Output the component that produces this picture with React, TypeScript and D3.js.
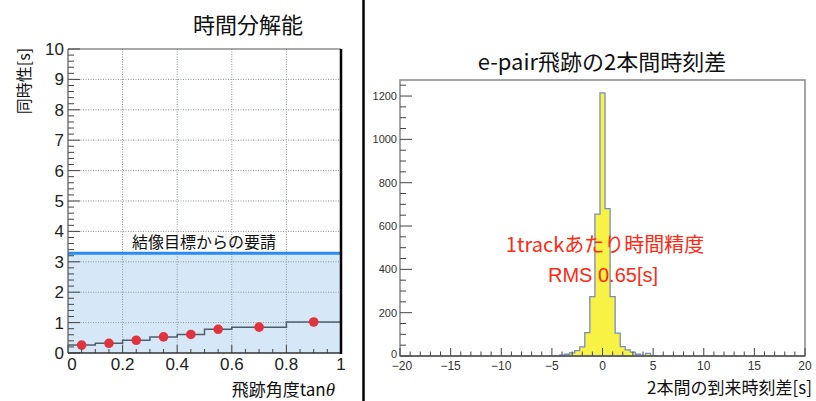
import React from "react";
import * as d3 from "d3";

// ---------- Left panel data ----------
const leftTitle = "時間分解能";
const leftYLabel = "同時性[s]";
const leftXLabel = "飛跡角度tan";
const reqLabel = "結像目標からの要請";
const binEdges = [0, 0.1, 0.2, 0.3, 0.4, 0.5, 0.6, 0.8, 1.0];
const pointX = [0.05, 0.15, 0.25, 0.35, 0.45, 0.55, 0.7, 0.9];
const pointY = [0.26, 0.32, 0.42, 0.53, 0.61, 0.78, 0.85, 1.02];
const requirement = 3.28;
const leftXTicks = [0, 0.2, 0.4, 0.6, 0.8, 1];
const leftYTicks = [0, 1, 2, 3, 4, 5, 6, 7, 8, 9, 10];

// ---------- Right panel data ----------
const rightTitle = "e-pair飛跡の2本間時刻差";
const rightXLabel = "2本間の到来時刻差[s]";
const annot1 = "1trackあたり時間精度";
const annot2 = "RMS 0.65[s]";
const histCenters = [-5, -4.5, -4, -3.5, -3, -2.5, -2, -1.5, -1, -0.5, 0, 0.5, 1, 1.5, 2, 2.5, 3, 3.5, 4, 4.5, 5];
const histCounts = [1, 2, 4, 8, 14, 25, 42, 108, 274, 655, 1215, 680, 274, 106, 43, 28, 18, 8, 3, 12, 2];
const binWidth = 0.5;
const rightXTicks = [-20, -15, -10, -5, 0, 5, 10, 15, 20];
const rightYTicks = [0, 200, 400, 600, 800, 1000, 1200];

const FONT = "'Liberation Sans', Arial, 'Noto Sans CJK JP', sans-serif";
const JFONT = "'Noto Sans CJK JP', 'Liberation Sans', sans-serif";

export default function App() {
  // left scales
  const x = d3.scaleLinear().domain([0, 1]).range([68, 341]);
  const y = d3.scaleLinear().domain([0, 10]).range([353, 49]);
  // right scales
  const xr = d3.scaleLinear().domain([-20, 20]).range([400, 805]);
  const yr = d3.scaleLinear().domain([0, 1274]).range([356, 80]);

  const yMinor = d3.range(0, 10.001, 0.2);
  const xMinor = d3.range(0, 1.0001, 0.05);
  const xrMinor = d3.range(-20, 20.001, 1);
  const yrMinor = d3.range(0, 1251, 50);

  // left step line
  let stepPath = "";
  for (let i = 0; i < pointY.length; i++) {
    const x0 = x(binEdges[i]);
    const x1 = x(binEdges[i + 1]);
    const yy = y(pointY[i]);
    if (i === 0) stepPath += `M${x0},${yy}`;
    else stepPath += `L${x0},${yy}`;
    stepPath += `L${x1},${yy}`;
  }

  // right histogram outline
  let hist = `M${xr(histCenters[0] - binWidth / 2)},${yr(0)}`;
  histCenters.forEach((c, i) => {
    hist += `L${xr(c - binWidth / 2)},${yr(histCounts[i])}L${xr(c + binWidth / 2)},${yr(histCounts[i])}`;
  });
  hist += `L${xr(histCenters[histCenters.length - 1] + binWidth / 2)},${yr(0)}Z`;

  return (
    <svg width={816} height={401} style={{ position: "absolute", left: 0, top: 0, background: "#fff" }}>
      <rect x={0} y={0} width={816} height={401} fill="#fff" />
      {/* ===== Left panel ===== */}
      <text x={248} y={33} fontSize={22} fontFamily={JFONT} textAnchor="middle" fill="#111">{leftTitle}</text>
      <rect x={x(0)} y={y(requirement)} width={x(1) - x(0)} height={y(0) - y(requirement)} fill="#d6e8f8" />
      {/* grid */}
      {leftXTicks.slice(1, -1).map((t) => (
        <line key={"gx" + t} x1={x(t)} x2={x(t)} y1={y(10)} y2={y(0)} stroke="#8c9298" strokeWidth={1} strokeDasharray="1,1.5" />
      ))}
      {leftYTicks.slice(1, -1).map((t) => (
        <line key={"gy" + t} x1={x(0)} x2={x(1)} y1={y(t)} y2={y(t)} stroke="#8c9298" strokeWidth={1} strokeDasharray="1,1.5" />
      ))}
      <line x1={x(0)} x2={x(1)} y1={y(requirement)} y2={y(requirement)} stroke="#2a8cf2" strokeWidth={3} />
      <text x={204} y={248} fontSize={16} fontFamily={JFONT} textAnchor="middle" fill="#111">{reqLabel}</text>
      <path d={stepPath} fill="none" stroke="#4d5d6b" strokeWidth={1.5} />
      {pointX.map((px, i) => (
        <circle key={"p" + i} cx={x(px)} cy={y(pointY[i])} r={4.8} fill="#e0333d" />
      ))}
      {/* ticks */}
      {yMinor.map((t, i) => {
        const major = Math.abs(t - Math.round(t)) < 1e-6;
        return <line key={"ym" + i} x1={x(0)} x2={x(0) + (major ? 12 : 6)} y1={y(t)} y2={y(t)} stroke="#444" strokeWidth={1} />;
      })}
      {xMinor.map((t, i) => {
        const major = Math.abs(t * 5 - Math.round(t * 5)) < 1e-6;
        return <line key={"xm" + i} x1={x(t)} x2={x(t)} y1={y(0)} y2={y(0) - (major ? 8 : 4)} stroke="#444" strokeWidth={1} />;
      })}
      {/* frame */}
      <line x1={x(0)} x2={x(1)} y1={y(10)} y2={y(10)} stroke="#555" strokeWidth={1.2} />
      <line x1={x(0)} x2={x(0)} y1={y(10)} y2={y(0)} stroke="#555" strokeWidth={1.2} />
      <line x1={x(0)} x2={x(1)} y1={y(0)} y2={y(0)} stroke="#333" strokeWidth={1.5} />
      <line x1={x(1)} x2={x(1)} y1={y(10)} y2={y(0) + 1} stroke="#000" strokeWidth={2.5} />
      {/* tick labels */}
      {leftYTicks.map((t) => (
        <text key={"yl" + t} x={64} y={y(t) + 6} fontSize={17} fontFamily={FONT} textAnchor="end" fill="#222">{t}</text>
      ))}
      {leftXTicks.map((t) => (
        <text key={"xl" + t} x={x(t) + (t === 0 ? 4 : 0)} y={370} fontSize={17} fontFamily={FONT} textAnchor="middle" fill="#222">{t}</text>
      ))}
      <text transform="translate(30,81) rotate(-90)" fontSize={16} fontFamily={JFONT} textAnchor="middle" fill="#111">{leftYLabel}</text>
      <text x={335} y={396} fontSize={17} fontFamily={JFONT} textAnchor="end" fill="#111">
        {leftXLabel}
        <tspan fontFamily="'Liberation Serif', serif" fontStyle="italic" fontSize={19}>θ</tspan>
      </text>

      {/* separator */}
      <line x1={363.5} x2={363.5} y1={0} y2={401} stroke="#000" strokeWidth={2.5} />

      {/* ===== Right panel ===== */}
      <text x={602} y={70} fontSize={22} fontFamily={JFONT} textAnchor="middle" fill="#111">{rightTitle}</text>
      <rect x={xr(-20)} y={yr(1274)} width={xr(20) - xr(-20)} height={yr(0) - yr(1274)} fill="none" stroke="#888" strokeWidth={1.5} />
      <path d={hist} fill="#f7f244" stroke="#7b8cc4" strokeWidth={1.3} />
      {xrMinor.map((t, i) => {
        const major = t % 5 === 0;
        return <line key={"xrm" + i} x1={xr(t)} x2={xr(t)} y1={yr(0)} y2={yr(0) - (major ? 8 : 4.5)} stroke="#444" strokeWidth={1} />;
      })}
      {yrMinor.map((t, i) => {
        const major = t % 200 === 0;
        return <line key={"yrm" + i} x1={xr(-20)} x2={xr(-20) + (major ? 12 : 6)} y1={yr(t)} y2={yr(t)} stroke="#444" strokeWidth={1} />;
      })}
      <line x1={xr(-20)} x2={xr(20)} y1={yr(0)} y2={yr(0)} stroke="#555" strokeWidth={1.3} />
      {rightYTicks.map((t) => (
        <text key={"ryl" + t} x={397} y={yr(t) + (t === 0 ? 2 : 4)} fontSize={11} fontFamily={FONT} textAnchor="end" fill="#333">{t}</text>
      ))}
      {rightXTicks.map((t) => (
        <text key={"rxl" + t} x={xr(t) + (t === -20 ? 2 : 0)} y={370} fontSize={12} fontFamily={FONT} textAnchor="middle" fill="#333">{t < 0 ? "−" + Math.abs(t) : t}</text>
      ))}
      <text x={605} y={252} fontSize={20} fontFamily={JFONT} textAnchor="middle" fill="#ff2a14">{annot1}</text>
      <text x={603} y={282} fontSize={20} fontFamily={FONT} textAnchor="middle" fill="#ff2a14">{annot2}</text>
      <text x={812} y={394} fontSize={17} fontFamily={JFONT} textAnchor="end" fill="#111">{rightXLabel}</text>
    </svg>
  );
}
